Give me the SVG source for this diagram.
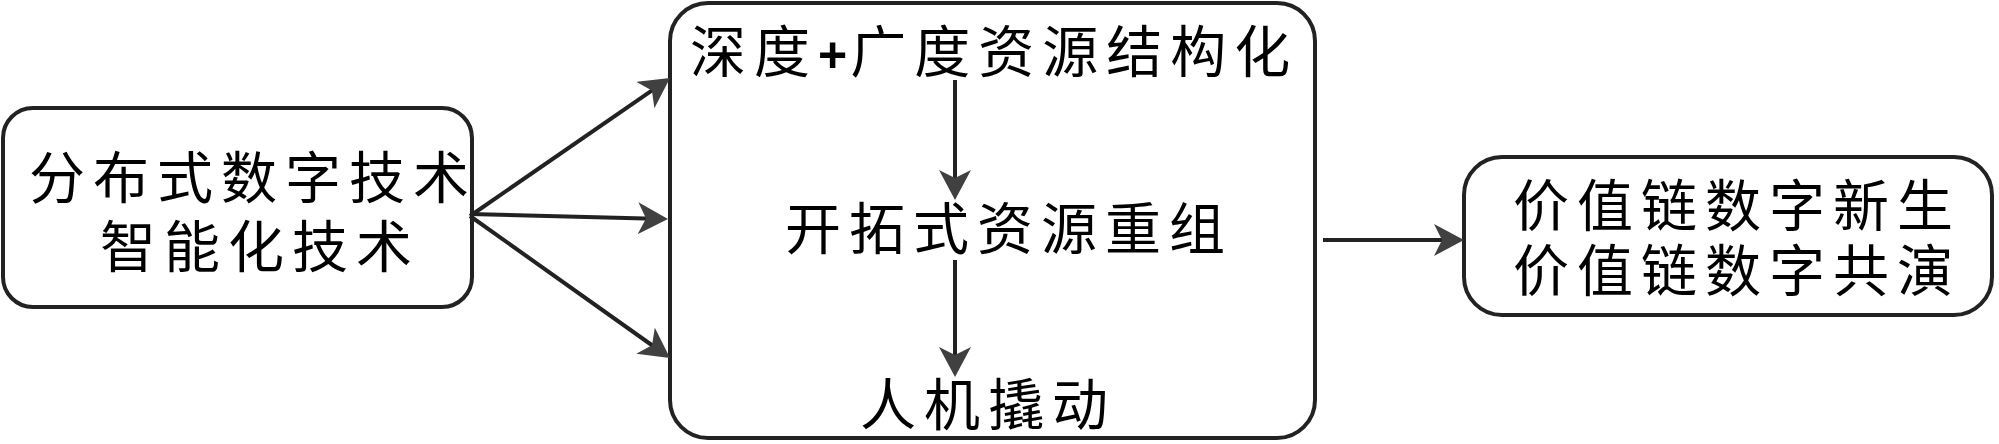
<svg xmlns="http://www.w3.org/2000/svg" width="1999" height="444" viewBox="0 0 1999 444">
  <style>
    .box { fill: #ffffff; stroke: #222222; stroke-width: 4; }
    .lbl { font-family: "Noto Sans CJK SC", "Noto Sans", sans-serif; font-size: 56px; letter-spacing: 8px; fill: #000000; }
    .plus { font-family: "Liberation Sans", Arial, sans-serif; font-weight: bold; font-size: 50px; letter-spacing: 3px; fill: #000000; }
    .conn { stroke: #222222; stroke-width: 4; fill: none; marker-end: url(#ah); }
  </style>
  <defs>
    <marker id="ah" markerWidth="30" markerHeight="32" refX="17" refY="16" orient="auto" markerUnits="userSpaceOnUse">
      <path d="M0,0 L30,16 L0,32 L8,16 Z" fill="#404040"/>
    </marker>
  </defs>
  <rect width="1999" height="444" fill="#ffffff"/>

  <g id="node-tech">
    <rect class="box" x="3" y="108" width="469" height="199" rx="30" ry="30"/>
    <text class="lbl"><tspan x="29" y="198">分布式数字技术</tspan><tspan x="100" y="267">智能化技术</tspan></text>
  </g>

  <g id="node-resource">
    <rect class="box" x="670" y="3" width="645" height="435" rx="38" ry="38"/>
    <text class="lbl" x="690" y="72">深度<tspan class="plus">+</tspan>广度资源结构化</text>
    <text class="lbl" x="785" y="249">开拓式资源重组</text>
    <text class="lbl" x="860" y="425">人机撬动</text>
  </g>

  <g id="node-value">
    <rect class="box" x="1464" y="157" width="528" height="158" rx="38" ry="38"/>
    <text class="lbl"><tspan x="1513" y="226">价值链数字新生</tspan><tspan x="1513" y="291">价值链数字共演</tspan></text>
  </g>

  <g id="connectors">
    <line class="conn" x1="470" y1="216" x2="659.3" y2="85.4"/>
    <line class="conn" x1="470" y1="214" x2="655" y2="218.7"/>
    <line class="conn" x1="470" y1="216" x2="659.4" y2="350.5"/>
    <line class="conn" x1="955" y1="80" x2="955" y2="187"/>
    <line class="conn" x1="955" y1="260" x2="955" y2="364"/>
    <line class="conn" x1="1323" y1="240" x2="1451" y2="240"/>
  </g>
</svg>
